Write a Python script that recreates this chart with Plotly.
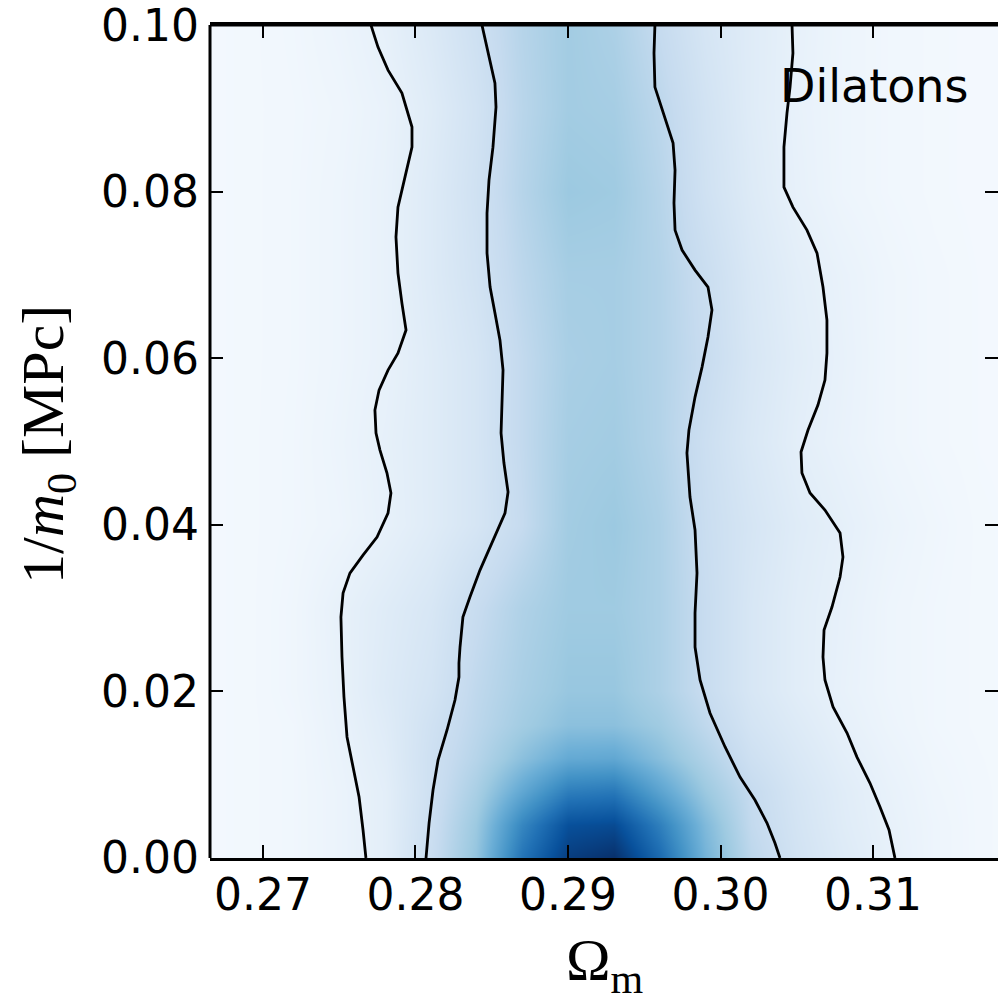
import plotly.graph_objects as go

# ---------------- data ----------------
omega_grid = [0.266, 0.269, 0.272, 0.275, 0.278, 0.281, 0.284, 0.287, 0.290, 0.293,
              0.296, 0.299, 0.302, 0.305, 0.308, 0.311, 0.314, 0.317, 0.320]
invm_grid = [0.0, 0.004, 0.008, 0.012, 0.016, 0.02, 0.03, 0.04, 0.05, 0.06, 0.07, 0.08, 0.09, 0.10]

density = [
    [0.02, 0.025, 0.035, 0.06, 0.10, 0.23, 0.40, 0.74, 0.95, 1.00, 0.78, 0.48, 0.28, 0.19, 0.13, 0.085, 0.05, 0.03, 0.02],
    [0.02, 0.025, 0.035, 0.06, 0.10, 0.22, 0.38, 0.67, 0.88, 0.90, 0.70, 0.45, 0.26, 0.18, 0.12, 0.08, 0.05, 0.03, 0.02],
    [0.02, 0.025, 0.035, 0.06, 0.10, 0.21, 0.34, 0.53, 0.70, 0.72, 0.55, 0.38, 0.25, 0.17, 0.115, 0.075, 0.045, 0.03, 0.02],
    [0.02, 0.025, 0.035, 0.065, 0.11, 0.21, 0.30, 0.42, 0.52, 0.53, 0.43, 0.32, 0.21, 0.15, 0.10, 0.065, 0.04, 0.028, 0.02],
    [0.02, 0.025, 0.035, 0.07, 0.12, 0.20, 0.28, 0.36, 0.42, 0.42, 0.37, 0.27, 0.18, 0.13, 0.085, 0.055, 0.035, 0.025, 0.02],
    [0.02, 0.025, 0.04, 0.075, 0.13, 0.18, 0.27, 0.34, 0.39, 0.39, 0.33, 0.24, 0.16, 0.11, 0.075, 0.05, 0.035, 0.025, 0.02],
    [0.02, 0.025, 0.04, 0.08, 0.12, 0.16, 0.24, 0.32, 0.37, 0.37, 0.33, 0.24, 0.16, 0.11, 0.08, 0.05, 0.035, 0.025, 0.02],
    [0.02, 0.025, 0.035, 0.05, 0.08, 0.12, 0.17, 0.25, 0.36, 0.38, 0.33, 0.23, 0.17, 0.12, 0.09, 0.06, 0.04, 0.025, 0.02],
    [0.02, 0.025, 0.035, 0.055, 0.085, 0.12, 0.17, 0.26, 0.35, 0.36, 0.31, 0.22, 0.15, 0.10, 0.07, 0.045, 0.03, 0.022, 0.02],
    [0.02, 0.025, 0.033, 0.05, 0.075, 0.12, 0.17, 0.26, 0.34, 0.35, 0.31, 0.24, 0.16, 0.11, 0.075, 0.045, 0.03, 0.022, 0.02],
    [0.02, 0.025, 0.033, 0.05, 0.075, 0.13, 0.19, 0.28, 0.35, 0.35, 0.31, 0.23, 0.15, 0.10, 0.07, 0.045, 0.03, 0.022, 0.02],
    [0.02, 0.025, 0.033, 0.05, 0.075, 0.13, 0.20, 0.30, 0.38, 0.37, 0.30, 0.20, 0.13, 0.08, 0.05, 0.035, 0.025, 0.02, 0.02],
    [0.02, 0.025, 0.032, 0.045, 0.07, 0.12, 0.19, 0.29, 0.36, 0.35, 0.28, 0.19, 0.12, 0.075, 0.05, 0.035, 0.025, 0.02, 0.02],
    [0.02, 0.025, 0.035, 0.055, 0.085, 0.14, 0.21, 0.30, 0.36, 0.33, 0.25, 0.17, 0.12, 0.08, 0.05, 0.035, 0.025, 0.02, 0.02],
]

# 2-sigma (outer) and 1-sigma (inner) contour boundaries
left_outer_omega = [0.27708, 0.27754, 0.27820, 0.27911, 0.27977, 0.27977, 0.27931, 0.27885, 0.27872, 0.27885,
                    0.27911, 0.27938, 0.27885, 0.27820, 0.27761, 0.27734, 0.27741, 0.27767, 0.27813, 0.27839,
                    0.27820, 0.27748, 0.27656, 0.27570, 0.27525, 0.27511, 0.27518, 0.27531, 0.27551, 0.27590,
                    0.27630, 0.27656, 0.27675]
left_outer_invm = [0.1000, 0.09736, 0.09460, 0.09184, 0.08776, 0.08535, 0.08175, 0.07815, 0.07455, 0.07023,
                   0.06663, 0.06339, 0.06062, 0.05858, 0.05618, 0.05378, 0.05102, 0.04898, 0.04622, 0.04382,
                   0.04142, 0.03854, 0.03637, 0.03421, 0.03181, 0.02893, 0.02413, 0.01933, 0.01453, 0.01092,
                   0.00732, 0.00336, 0.0]

left_inner_omega = [0.28436, 0.28475, 0.28521, 0.28528, 0.28508, 0.28482, 0.28469, 0.28469, 0.28489, 0.28521,
                    0.28554, 0.28574, 0.28567, 0.28561, 0.28580, 0.28607, 0.28587, 0.28508, 0.28423, 0.28357,
                    0.28311, 0.28292, 0.28285, 0.28285, 0.28259, 0.28207, 0.28148, 0.28115, 0.28089, 0.28069]
left_inner_invm = [0.1000, 0.09664, 0.09304, 0.09016, 0.08535, 0.08139, 0.07743, 0.07263, 0.06855, 0.06543,
                   0.06218, 0.05858, 0.05462, 0.05102, 0.04742, 0.04394, 0.04142, 0.03818, 0.03457, 0.03133,
                   0.02893, 0.02533, 0.02341, 0.02173, 0.01897, 0.01537, 0.01176, 0.00816, 0.00420, 0.0]

right_inner_omega = [0.29570, 0.29564, 0.29570, 0.29636, 0.29689, 0.29702, 0.29695, 0.29702, 0.29748, 0.29833,
                     0.29918, 0.29944, 0.29918, 0.29879, 0.29833, 0.29793, 0.29780, 0.29800, 0.29833, 0.29846,
                     0.29833, 0.29833, 0.29866, 0.29931, 0.30030, 0.30128, 0.30226, 0.30305, 0.30357, 0.30390]
right_inner_invm = [0.1000, 0.09664, 0.09256, 0.08896, 0.08583, 0.08259, 0.07863, 0.07539, 0.07299, 0.07059,
                    0.06855, 0.06579, 0.06255, 0.05894, 0.05534, 0.05138, 0.04862, 0.04334, 0.03938, 0.03421,
                    0.02941, 0.02533, 0.02137, 0.01741, 0.01333, 0.00972, 0.00696, 0.00420, 0.00180, 0.0]

right_outer_omega = [0.30469, 0.30475, 0.30456, 0.30436, 0.30416, 0.30416, 0.30475, 0.30567, 0.30633, 0.30672,
                     0.30698, 0.30698, 0.30685, 0.30639, 0.30574, 0.30528, 0.30534, 0.30587, 0.30685, 0.30784,
                     0.30803, 0.30784, 0.30731, 0.30679, 0.30672, 0.30685, 0.30738, 0.30830, 0.30895, 0.30980,
                     0.31046, 0.31105, 0.31144]
right_outer_invm = [0.1000, 0.09664, 0.09256, 0.08944, 0.08535, 0.08055, 0.07815, 0.07539, 0.07263, 0.06855,
                    0.06459, 0.06062, 0.05738, 0.05438, 0.05138, 0.04874, 0.04622, 0.04382, 0.04178, 0.03902,
                    0.03613, 0.03373, 0.03013, 0.02737, 0.02413, 0.02137, 0.01813, 0.01501, 0.01212, 0.00900,
                    0.00612, 0.00336, 0.0]

x_ticks = [0.27, 0.28, 0.29, 0.30, 0.31]
y_ticks = [0.00, 0.02, 0.04, 0.06, 0.08, 0.10]
label_text = "Dilatons"

# ---------------- figure ----------------
blues = [[0.0, "#f7fbff"], [0.125, "#deebf7"], [0.25, "#c6dbef"], [0.375, "#9ecae1"],
         [0.5, "#6baed6"], [0.625, "#4292c6"], [0.75, "#2171b5"], [0.875, "#08519c"], [1.0, "#08306b"]]

X_RANGE = [0.266525, 0.318197]
Y_RANGE = [0.0, 0.100015]

fig = go.Figure()
fig.add_trace(go.Heatmap(x=omega_grid, y=invm_grid, z=density, colorscale=blues,
                         zmin=0, zmax=1, zsmooth="best", showscale=False, hoverinfo="skip"))

for xs, ys in [(left_outer_omega, left_outer_invm), (left_inner_omega, left_inner_invm),
               (right_inner_omega, right_inner_invm), (right_outer_omega, right_outer_invm)]:
    fig.add_trace(go.Scatter(x=xs, y=ys, mode="lines", line=dict(color="black", width=2.8),
                             showlegend=False, hoverinfo="skip"))

W, H = 998, 1003
L, R, T, B = 210, 0, 25, 145
pw, ph = W - L - R, H - T - B

def px2paper(px, py):
    return (px - L) / pw, (H - B - py) / ph

tickfont = dict(family="DejaVu Sans", size=44, color="black")
tickstyle = dict(ticks="inside", ticklen=13, tickwidth=2, tickcolor="black",
                 showgrid=False, zeroline=False, ticklabeloverflow="allow")
fig.update_layout(
    width=W, height=H, margin=dict(l=L, r=R, t=T, b=B, pad=0),
    paper_bgcolor="white", plot_bgcolor="white", showlegend=False,
    xaxis=dict(range=X_RANGE, tickvals=x_ticks, tickformat=".2f",
               showline=True, linewidth=3, linecolor="black", mirror="ticks",
               tickfont=tickfont, ticklabelstandoff=-4, **tickstyle),
    yaxis=dict(range=Y_RANGE, tickvals=y_ticks, tickformat=".2f",
               showline=False, mirror="ticks",
               tickfont=tickfont, ticklabelstandoff=10, **tickstyle),
)

# left spine and top spine (right spine lies outside the visible window)
for x0, y0, x1, y1 in [(0, 0, 0, 1), (0, 1, 1, 1)]:
    fig.add_shape(type="line", xref="paper", yref="paper", x0=x0, x1=x1, y0=y0, y1=y1,
                  line=dict(color="black", width=3), layer="above")

ax, ay = px2paper(778, 86)
fig.add_annotation(text=label_text, xref="paper", yref="paper", x=ax, y=ay,
                   xanchor="left", yanchor="middle", showarrow=False,
                   font=dict(family="DejaVu Sans", size=46, color="black"))

ax, ay = px2paper(605, 964)
fig.add_annotation(text="Ω<sub>m</sub>", xref="paper", yref="paper", x=ax, y=ay,
                   xanchor="center", yanchor="middle", showarrow=False,
                   font=dict(family="Liberation Serif", size=60, color="black"))

ax, ay = px2paper(47, 445)
fig.add_annotation(text="1/<i>m</i><sub>0</sub> [MPc]", xref="paper", yref="paper", x=ax, y=ay,
                   xanchor="center", yanchor="middle", textangle=-90, showarrow=False,
                   font=dict(family="Liberation Serif", size=60, color="black"))

fig.write_html("out.html")
